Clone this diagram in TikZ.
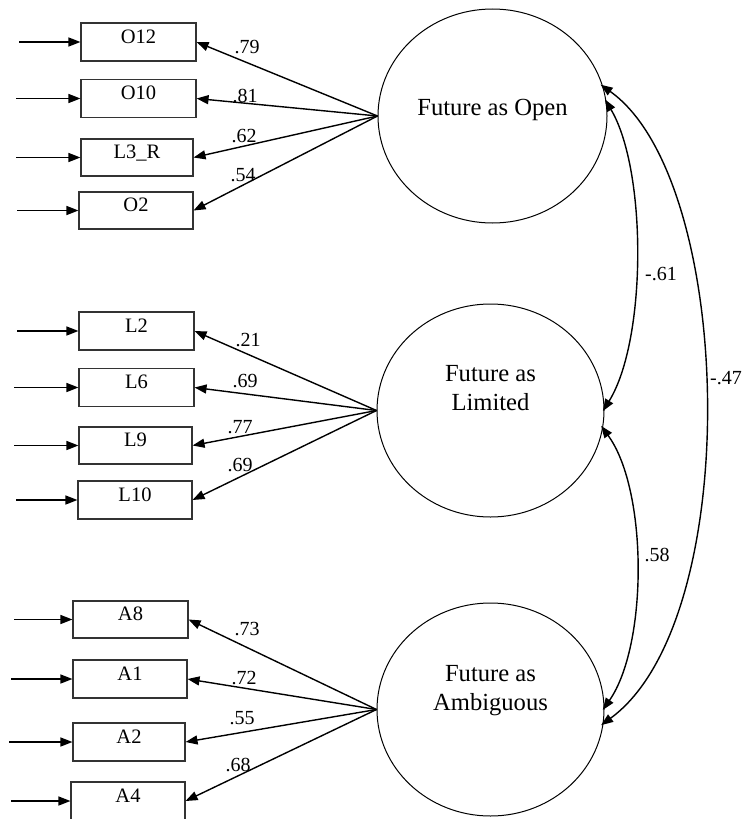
\documentclass[tikz,border=0pt]{standalone}
\usepackage{fontspec}
\setmainfont{Liberation Serif}
\usetikzlibrary{shapes.geometric,arrows.meta}
\begin{document}
\begin{tikzpicture}[x=1pt,y=-1pt,
  obs/.style={draw=black!80, rectangle, minimum height=38pt, inner sep=0pt, text height=12pt, text depth=10pt, font=\fontsize{20.5}{24}\selectfont, line width=1.1pt},
  latent/.style={draw, ellipse, inner sep=0pt, line width=1pt},
  lattext/.style={font=\fontsize{24.6}{29}\selectfont, align=center, inner sep=0pt},
  lbl/.style={font=\fontsize{20}{24}\selectfont, inner sep=0pt},
  arr/.style={line width=1.4pt, -{Triangle[length=12pt,width=9pt]}},
  cov/.style={line width=1.4pt, {Triangle[length=12pt,width=9pt]}-{Triangle[length=12pt,width=9pt]}, shorten <=-3pt, shorten >=-3pt}
]
\useasboundingbox (0,0) rectangle (742,819);

% latent variables
\node[latent, minimum width=229pt, minimum height=214pt] (open) at (492.5,116) {};
\node[latent, minimum width=227pt, minimum height=213pt] (lim) at (490.5,410.5) {};
\node[latent, minimum width=227pt, minimum height=213pt] (amb) at (490.5,709.5) {};
\node[lattext, anchor=base] (topen) at (492.5,115) {Future as Open};
\node[lattext] (tlim) at (490.5,388.5) {Future as\\Limited};
\node[lattext] (tamb) at (490.5,690.5) {Future as\\Ambiguous};

% observed variables
\node[obs, minimum width=115pt] (o12) at (138.5,42) {O12};
\node[obs, minimum width=115pt] (o10) at (138.5,98.5) {O10};
\node[obs, minimum width=112pt, minimum height=37pt] (l3r) at (137,157.5) {L3\_R};
\node[obs, minimum width=114pt, minimum height=37pt] (o2) at (136,210.5) {O2};
\node[obs, minimum width=115pt] (l2) at (136.5,331) {L2};
\node[obs, minimum width=115pt] (l6) at (136.5,387.5) {L6};
\node[obs, minimum width=113pt, minimum height=37pt] (l9) at (135.5,445.5) {L9};
\node[obs, minimum width=114pt] (l10) at (135,500) {L10};
\node[obs, minimum width=115pt, minimum height=37pt] (a8) at (130.5,619.5) {A8};
\node[obs, minimum width=114pt] (a1) at (130,679) {A1};
\node[obs, minimum width=112pt] (a2) at (129,742) {A2};
\node[obs, minimum width=114pt] (a4) at (128,801) {A4};

% error inputs
\coordinate (eo12) at ([xshift=-61pt]o12.west);
\coordinate (eo10) at ([xshift=-64pt]o10.west);
\coordinate (el3r) at ([xshift=-64pt]l3r.west);
\coordinate (eo2) at ([xshift=-61pt]o2.west);
\coordinate (el2) at ([xshift=-61pt]l2.west);
\coordinate (el6) at ([xshift=-64pt]l6.west);
\coordinate (el9) at ([xshift=-64pt]l9.west);
\coordinate (el10) at ([xshift=-61pt]l10.west);
\coordinate (ea8) at ([xshift=-58pt]a8.west);
\coordinate (ea1) at ([xshift=-61pt]a1.west);
\coordinate (ea2) at ([xshift=-63pt]a2.west);
\coordinate (ea4) at ([xshift=-59pt]a4.west);
\foreach \n in {o12,o10,l3r,o2,l2,l6,l9,l10,a8,a1,a2,a4}
  \draw[arr] (e\n) -- (\n.west);

% loadings
\foreach \n in {o12,o10,l3r,o2} \draw[arr] (open.west) -- (\n.east);
\foreach \n in {l2,l6,l9,l10} \draw[arr] (lim.west) -- (\n.east);
\foreach \n in {a8,a1,a2,a4} \draw[arr] (amb.west) -- (\n.east);

\node[lbl] (w1) at (247,47) {.79};
\node[lbl] (w2) at (245,96) {.81};
\node[lbl] (w3) at (244,136) {.62};
\node[lbl] (w4) at (243,175) {.54};
\node[lbl] (w5) at (248,340) {.21};
\node[lbl] (w6) at (245,381) {.69};
\node[lbl] (w7) at (240,427) {.77};
\node[lbl] (w8) at (240,465) {.69};
\node[lbl] (w9) at (247,629) {.73};
\node[lbl] (w10) at (244,678) {.72};
\node[lbl] (w11) at (242,718) {.55};
\node[lbl] (w12) at (238,765) {.68};

% covariances
\draw[cov] (open.7) .. controls (647,170) and (647,340) .. (lim.1);
\draw[cov] (lim.-9) .. controls (648,490) and (648,645) .. (amb.1);
\draw[cov] (open.15) .. controls (735,180) and (745,620) .. (amb.-7);
\node[lbl] (c1) at (661,274) {-.61};
\node[lbl] (c2) at (657,555) {.58};
\node[lbl] (c3) at (726,378) {-.47};
\end{tikzpicture}
\end{document}
